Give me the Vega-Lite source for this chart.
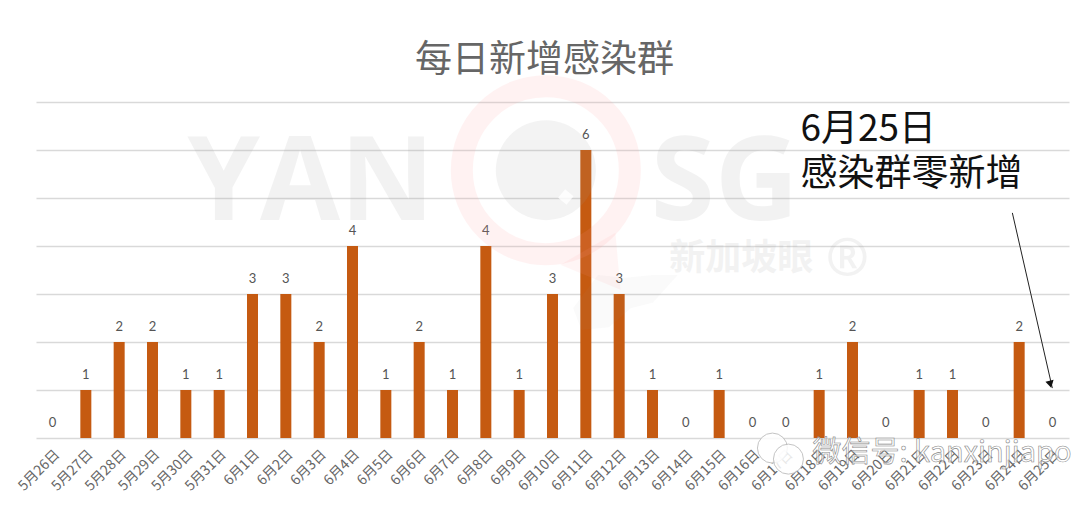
{"$schema":"https://vega.github.io/schema/vega-lite/v6.json","width":1033,"height":336,"autosize":{"type":"none"},"padding":{"left":36,"top":102,"right":11,"bottom":67},"background":"white","config":{"view":{"stroke":null},"font":"Noto Sans CJK SC"},"title":{"text":"每日新增感染群","fontSize":37,"fontWeight":"normal","color":"#666666","anchor":"middle","dx":-8,"offset":-38,"font":"Noto Sans CJK SC"},"datasets":{"d":[{"date":"5月26日","n":0},{"date":"5月27日","n":1},{"date":"5月28日","n":2},{"date":"5月29日","n":2},{"date":"5月30日","n":1},{"date":"5月31日","n":1},{"date":"6月1日","n":3},{"date":"6月2日","n":3},{"date":"6月3日","n":2},{"date":"6月4日","n":4},{"date":"6月5日","n":1},{"date":"6月6日","n":2},{"date":"6月7日","n":1},{"date":"6月8日","n":4},{"date":"6月9日","n":1},{"date":"6月10日","n":3},{"date":"6月11日","n":6},{"date":"6月12日","n":3},{"date":"6月13日","n":1},{"date":"6月14日","n":0},{"date":"6月15日","n":1},{"date":"6月16日","n":0},{"date":"6月17日","n":0},{"date":"6月18日","n":1},{"date":"6月19日","n":2},{"date":"6月20日","n":0},{"date":"6月21日","n":1},{"date":"6月22日","n":1},{"date":"6月23日","n":0},{"date":"6月24日","n":2},{"date":"6月25日","n":0}]},"layer":[{"data":{"name":"d"},"layer":[{"mark":{"type":"bar","color":"#c55a11","width":11},"encoding":{"x":{"field":"date","type":"nominal","sort":null,"title":null,"scale":{"paddingInner":0.67,"paddingOuter":0.33},"axis":{"labelAngle":-45,"labelFontSize":14,"labelColor":"#666666","ticks":false,"domain":false,"grid":false,"labelPadding":9}},"y":{"field":"n","type":"quantitative","title":null,"scale":{"domain":[0,7],"nice":false},"axis":{"tickCount":7,"grid":true,"gridColor":"#d9d9d9","gridWidth":1.4,"labels":false,"ticks":false,"domain":false}}}},{"mark":{"type":"text","dy":-15,"fontSize":13,"color":"#555555","font":"Lato"},"encoding":{"x":{"field":"date","type":"nominal","sort":null},"y":{"field":"n","type":"quantitative"},"text":{"field":"n","type":"quantitative"}}}]},{"encoding":{"x":{"field":"u","type":"quantitative","scale":{"domain":[0,31],"nice":false,"zero":false},"axis":null},"y":{"field":"v","type":"quantitative","scale":{"domain":[0,7],"nice":false}}},"layer":[{"data":{"values":[{"u":15.3,"v":5.58}]},"mark":{"type":"point","shape":"circle","filled":false,"size":28224,"strokeWidth":22,"stroke":"#ff9999","opacity":0.12}},{"data":{"values":[{"u":16.64,"v":3.67}]},"mark":{"type":"point","shape":"M-1,0.1L0.83,-0.97L1,0.93Z","filled":true,"size":3600,"color":"#ff9999","opacity":0.1}},{"data":{"values":[{"u":15.3,"v":5.58}]},"mark":{"type":"point","shape":"circle","filled":true,"size":10000,"color":"#999999","opacity":0.12}},{"data":{"values":[{"u":15.9,"v":5.02}]},"mark":{"type":"point","shape":"square","filled":true,"size":120,"angle":40,"color":"#ffffff","opacity":0.8}},{"data":{"values":[{"u":17.69,"v":2.94}]},"mark":{"type":"point","shape":"M-0.95,0.2L-0.5,-0.4L0,-0.35L0.5,-0.4L0.95,-0.4L0.5,0.1L0.1,0.2L-0.3,0.55L-0.8,0.6Z","filled":true,"size":12100,"color":"#999999","opacity":0.05}},{"data":{"values":[{"u":4.55,"v":4.54,"t":"YAN"},{"u":18.45,"v":4.54,"t":"SG"}]},"mark":{"type":"text","font":"Open Sans","fontWeight":"bold","fontSize":116,"color":"#999999","opacity":0.12,"align":"left","baseline":"alphabetic"},"encoding":{"text":{"field":"t"}}},{"data":{"values":[{"u":19.0,"v":3.73,"t":"新加坡眼"}]},"mark":{"type":"text","fontWeight":"bold","fontSize":36,"color":"#999999","opacity":0.12,"align":"left","baseline":"middle"},"encoding":{"text":{"field":"t"}}},{"data":{"values":[{"u":23.7,"v":3.73,"t":"®"}]},"mark":{"type":"text","font":"Open Sans","fontWeight":"bold","fontSize":52,"color":"#999999","opacity":0.12,"align":"left","baseline":"middle"},"encoding":{"text":{"field":"t"}}},{"data":{"values":[{"u":22.94,"v":6.42,"t":"6月25日"},{"u":22.94,"v":5.48,"t":"感染群零新增"}]},"mark":{"type":"text","fontSize":37,"color":"#111111","align":"left","baseline":"middle"},"encoding":{"text":{"field":"t"}}},{"data":{"values":[{"u":29.3,"v":4.69,"u2":30.5,"v2":1.04}]},"mark":{"type":"rule","color":"#222222","strokeWidth":1},"encoding":{"x2":{"field":"u2"},"y2":{"field":"v2"}}},{"data":{"values":[{"u":30.44,"v":1.12}]},"mark":{"type":"point","shape":"triangle-down","filled":true,"size":70,"angle":-13,"color":"#111111","opacity":1}},{"data":{"values":[{"u":22.1,"v":-0.21},{"u":22.58,"v":-0.44}]},"mark":{"type":"point","shape":"circle","filled":true,"size":900,"fill":"#ffffff","stroke":"#bbbbbb","strokeWidth":1,"opacity":0.85}},{"data":{"values":[{"u":23.3,"v":-0.31,"t":"微信号: kanxinjiapo"}]},"mark":{"type":"text","fontSize":29,"font":"Noto Sans CJK SC","fill":"#ffffff","fillOpacity":0.6,"stroke":"#888888","strokeWidth":0.6,"align":"left","baseline":"middle"},"encoding":{"text":{"field":"t"}}}]}],"resolve":{"scale":{"x":"independent"},"axis":{"x":"independent"}}}
